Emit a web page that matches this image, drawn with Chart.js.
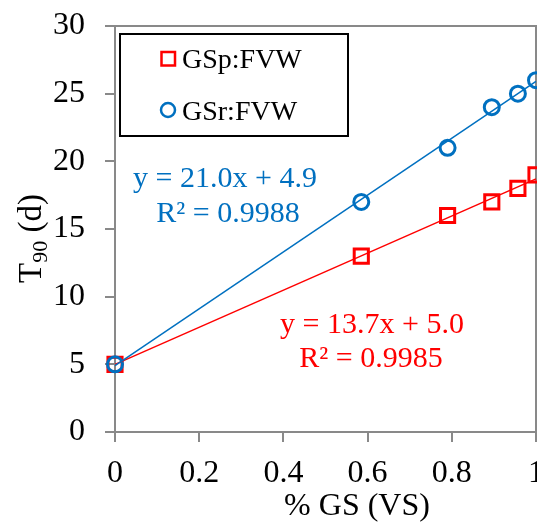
<!DOCTYPE html>
<html lang="en">
<head>
<meta charset="UTF-8">
<title>T90 vs GS</title>
<script src="https://cdn.jsdelivr.net/npm/chart.js@4.4.1/dist/chart.umd.min.js"></script>
<style>
  html, body { margin: 0; padding: 0; overflow: hidden; background: #fff; }
  #t90Chart { display: block; }
</style>
<script>
// values
var gsFraction = [0, 0.585, 0.79, 0.895, 0.957, 1];
var t90Gsp = [5, 13, 16, 17, 18, 19];
var t90Gsr = [5, 17, 21, 24, 25, 26];

// trend lines, end points at x = 0 and x = 1
var trendX = [0, 1];
var trendGsp = [5.0, 18.7];
var trendGsr = [4.9, 25.9];

var xTicks = [0, 0.2, 0.4, 0.6, 0.8, 1];
var yTicks = [0, 5, 10, 15, 20, 25, 30];

var seriesLabels = ['GSp:FVW', 'GSr:FVW'];
var eqGsp = ['y = 13.7x + 5.0', 'R\u00b2 = 0.9985'];
var eqGsr = ['y = 21.0x + 4.9', 'R\u00b2 = 0.9988'];

var RED = '#ff0000';
var BLUE = '#0070c0';
var AXIS = '#898989';
var FONT = '"Liberation Serif", "Times New Roman", serif';

function toPoints(xs, ys) {
  return xs.map(function(x, i) { return { x: x, y: ys[i] }; });
}

// frame, legend box, equations and axis titles
var extrasPlugin = {
  id: 'extras',
  beforeDatasetsDraw: function(chart) {
    var ctx = chart.ctx;
    var a = chart.chartArea;
    ctx.save();
    ctx.strokeStyle = AXIS;
    ctx.lineWidth = 2;
    ctx.beginPath();
    ctx.moveTo(a.left, a.top);
    ctx.lineTo(a.right, a.top);
    ctx.lineTo(a.right, a.bottom);
    ctx.stroke();
    ctx.restore();
  },
  afterDraw: function(chart) {
    var ctx = chart.ctx;
    ctx.save();

    // legend
    ctx.fillStyle = '#fff';
    ctx.fillRect(120, 34, 228, 102);
    ctx.strokeStyle = '#000';
    ctx.lineWidth = 2;
    ctx.strokeRect(120, 34, 228, 102);

    ctx.lineWidth = 2.5;
    ctx.strokeStyle = RED;
    ctx.strokeRect(161.5, 52, 13.5, 13.5);
    ctx.strokeStyle = BLUE;
    ctx.beginPath();
    ctx.arc(168, 110, 7, 0, Math.PI * 2);
    ctx.stroke();

    ctx.fillStyle = '#000';
    ctx.font = '28px ' + FONT;
    ctx.textAlign = 'left';
    ctx.textBaseline = 'alphabetic';
    ctx.fillText(seriesLabels[0], 182, 68);
    ctx.fillText(seriesLabels[1], 182, 120);

    // trend equations
    ctx.font = '30px ' + FONT;
    ctx.textAlign = 'center';
    ctx.fillStyle = BLUE;
    ctx.fillText(eqGsr[0], 225, 187);
    ctx.fillText(eqGsr[1], 228, 222);
    ctx.fillStyle = RED;
    ctx.fillText(eqGsp[0], 372, 333);
    ctx.fillText(eqGsp[1], 371, 367);

    // x axis title
    ctx.fillStyle = '#000';
    ctx.font = '32px ' + FONT;
    ctx.fillText('% GS (VS)', 357, 515);

    // y axis title with subscript
    ctx.translate(41, 283);
    ctx.rotate(-Math.PI / 2);
    ctx.textAlign = 'left';
    ctx.font = '33px ' + FONT;
    ctx.fillText('T', 0, 0);
    var w = ctx.measureText('T').width;
    ctx.font = '22px ' + FONT;
    ctx.fillText('90', w, 6);
    w += ctx.measureText('90').width;
    ctx.font = '33px ' + FONT;
    ctx.fillText(' (d)', w, 0);

    ctx.restore();
  }
};

var config = {
  type: 'line',
  data: {
    datasets: [
      {
        label: seriesLabels[1] + ' trend',
        data: toPoints(trendX, trendGsr),
        borderColor: BLUE,
        borderWidth: 1.5,
        pointRadius: 0,
        fill: false,
        clip: false,
        order: 1
      },
      {
        label: seriesLabels[0] + ' trend',
        data: toPoints(trendX, trendGsp),
        borderColor: RED,
        borderWidth: 1.5,
        pointRadius: 0,
        fill: false,
        clip: false,
        order: 2
      },
      {
        label: seriesLabels[1],
        data: toPoints(gsFraction, t90Gsr),
        showLine: false,
        pointStyle: 'circle',
        pointRadius: 7.5,
        pointBorderWidth: 3,
        pointBorderColor: BLUE,
        pointBackgroundColor: 'rgba(0,0,0,0)',
        clip: false,
        order: 3
      },
      {
        label: seriesLabels[0],
        data: toPoints(gsFraction, t90Gsp),
        showLine: false,
        pointStyle: 'rect',
        pointRadius: 10,
        pointBorderWidth: 3,
        pointBorderColor: RED,
        pointBackgroundColor: 'rgba(0,0,0,0)',
        clip: false,
        order: 4
      }
    ]
  },
  options: {
    responsive: false,
    animation: false,
    layout: { padding: { left: 0, top: 26, right: 24, bottom: 0 } },
    plugins: {
      legend: { display: false },
      tooltip: { enabled: false }
    },
    scales: {
      x: {
        type: 'linear',
        min: 0,
        max: 1,
        afterBuildTicks: function(scale) {
          scale.ticks = xTicks.map(function(v) { return { value: v }; });
        },
        afterFit: function(scale) { scale.height = 90; },
        grid: { drawOnChartArea: false, tickLength: 10, color: AXIS, lineWidth: 2 },
        border: { color: AXIS, width: 2 },
        ticks: {
          color: '#000',
          padding: 12,
          maxRotation: 0,
          font: { family: FONT, size: 32 },
          callback: function(v) { return String(+v.toFixed(1)); }
        }
      },
      y: {
        type: 'linear',
        min: 0,
        max: 30,
        afterBuildTicks: function(scale) {
          scale.ticks = yTicks.map(function(v) { return { value: v }; });
        },
        afterFit: function(scale) {
          scale.width = 115;
          // the top label may stick out above the plot, as in the original
          scale.paddingTop = 0;
          scale.paddingBottom = 0;
        },
        grid: { drawOnChartArea: false, tickLength: 10, color: AXIS, lineWidth: 2 },
        border: { color: AXIS, width: 2 },
        ticks: {
          color: '#000',
          padding: 20,
          font: { family: FONT, size: 32 }
        }
      }
    }
  },
  plugins: [extrasPlugin]
};
</script>
</head>
<body>
<canvas id="t90Chart" width="560" height="522"></canvas>
<script>
window.onload = function() {
  var ctx = document.getElementById('t90Chart').getContext('2d');
  window.myChart = new Chart(ctx, config);
};
</script>
</body>
</html>
